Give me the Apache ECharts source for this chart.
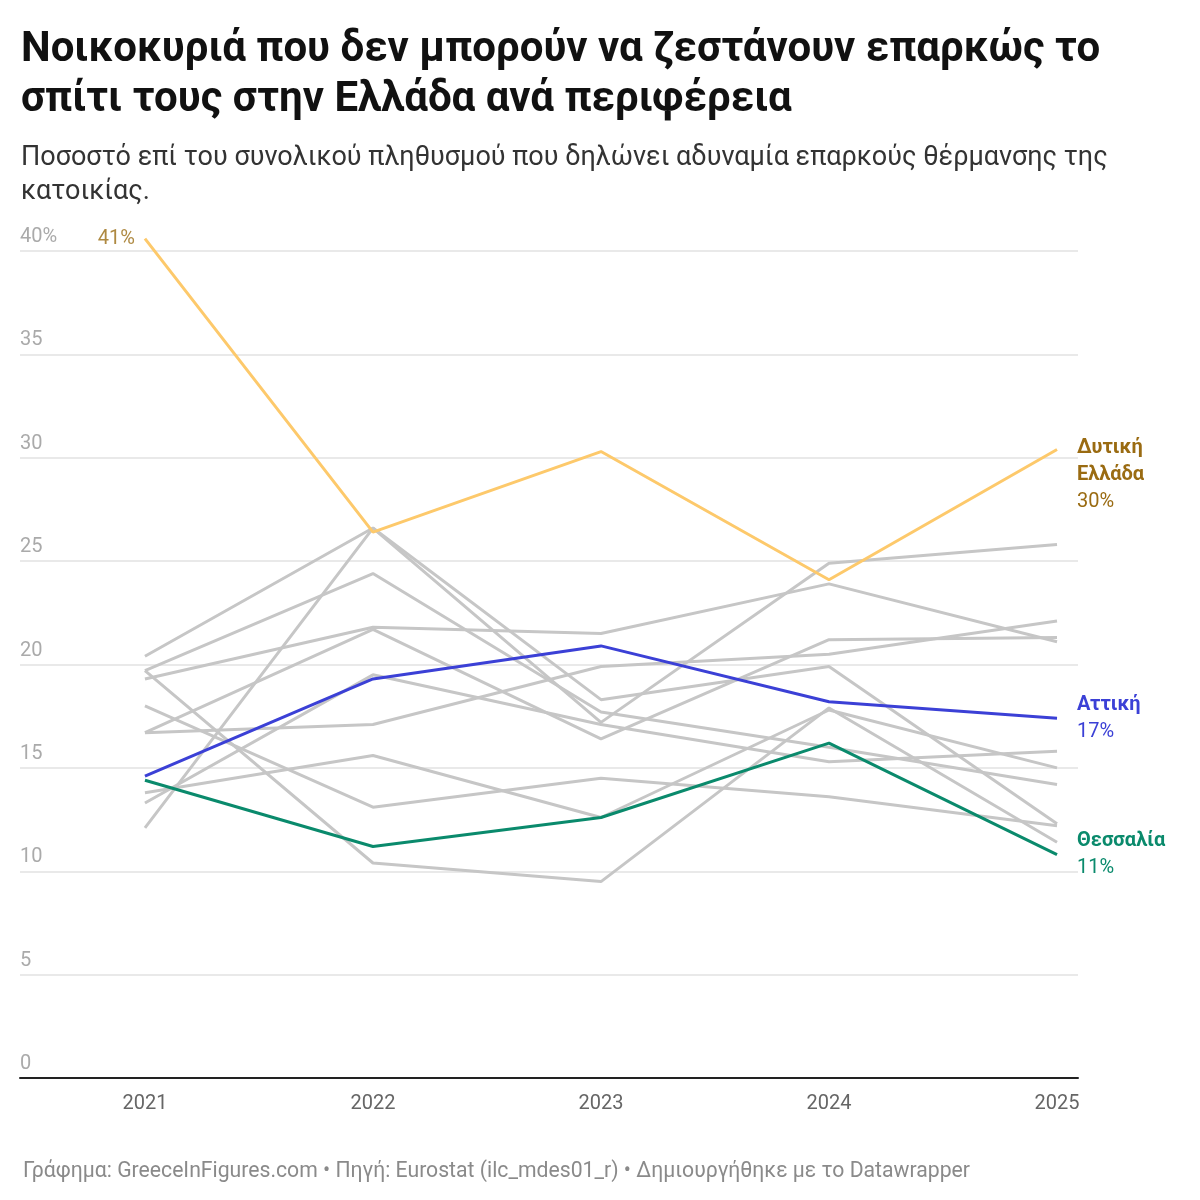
<!DOCTYPE html>
<html>
<head>
<meta charset="utf-8">
<script src="https://cdn.jsdelivr.net/npm/echarts@6/dist/echarts.min.js"></script>
<style>
  body { margin: 0; background: #fff; }
  #chart { width: 1200px; height: 1200px; }
</style>
</head>
<body>
<div id="chart"></div>
<script>
var years = [2021, 2022, 2023, 2024, 2025]
var dytikiEllada = [40.6, 26.4, 30.3, 24.1, 30.4]
var attiki = [14.6, 19.3, 20.9, 18.2, 17.4]
var thessalia = [14.4, 11.2, 12.6, 16.2, 10.8]
var others = [
  [20.4, 26.6, 18.3, 19.9, 12.3],
  [12.1, 26.6, 17.2, 24.9, 25.8],
  [19.7, 24.4, 17.7, 16.0, 14.2],
  [19.3, 21.8, 21.5, 23.9, 21.1],
  [16.7, 21.7, 16.4, 21.2, 21.3],
  [19.7, 10.4, 9.5, 17.9, 11.4],
  [18.0, 13.1, 14.5, 13.6, 12.2],
  [16.7, 17.1, 19.9, 20.5, 22.1],
  [13.8, 15.6, 12.6, 17.8, 15.0],
  [13.3, 19.5, 17.1, 15.3, 15.8]
]
var yTicks = [0, 5, 10, 15, 20, 25, 30, 35, 40]

var font = 'Roboto'
var myChart = echarts.init(document.getElementById('chart'))

function pairs (vals) {
  return vals.map(function (v, i) { return [years[i], v] })
}

var series = []
others.forEach(function (vals) {
  series.push({
    type: 'line', data: pairs(vals), symbol: 'none', silent: true, clip: false,
    lineStyle: { color: '#c6c6c6', width: 3 }, z: 1
  })
})

function highlight (vals, color, textColor, name, z) {
  return {
    type: 'line', data: pairs(vals), symbol: 'none', z: z, clip: false,
    lineStyle: { color: color, width: 3 },
    endLabel: {
      show: true, distance: 20, align: 'left',
      formatter: '{b|' + name + '}\n{v|' + Math.round(vals[vals.length - 1]) + '%}',
      rich: {
        b: { fontFamily: font, fontSize: 20, fontWeight: 'bold', color: textColor, lineHeight: 27 },
        v: { fontFamily: font, fontSize: 20, color: textColor, lineHeight: 27 }
      }
    }
  }
}

var dyt = highlight(dytikiEllada, '#fdc96b', '#9a6b12', 'Δυτική\nΕλλάδα', 5)
dyt.endLabel.formatter = '{b|Δυτική}\n{b|Ελλάδα}\n{v|30%}'
dyt.endLabel.offset = [0, 26]
series.push(dyt)
series.push(highlight(attiki, '#3b40d6', '#3b40d6', 'Αττική', 6))
series.push(highlight(thessalia, '#0a8a6c', '#0a8a6c', 'Θεσσαλία', 6))
// start label for the peak value
series.push({
  type: 'scatter', data: [[years[0], dytikiEllada[0]]], symbolSize: 0, silent: true, clip: false,
  label: { show: true, position: 'left', distance: 10, formatter: '41%', fontFamily: font, fontSize: 20, color: '#9a6b12' }
})

var option = {
  animation: false,
  title: [
    {
      text: 'Νοικοκυριά που δεν μπορούν να ζεστάνουν επαρκώς το\nσπίτι τους στην Ελλάδα ανά περιφέρεια',
      left: 16, top: 20,
      textStyle: { fontFamily: font, fontSize: 42, fontWeight: 'bold', color: '#111', lineHeight: 50 }
    },
    {
      text: 'Ποσοστό επί του συνολικού πληθυσμού που δηλώνει αδυναμία επαρκούς θέρμανσης της\nκατοικίας.',
      left: 16, top: 136,
      textStyle: { fontFamily: font, fontSize: 27, fontWeight: 'normal', color: '#333', lineHeight: 34 }
    },
    {
      text: 'Γράφημα: GreeceInFigures.com • Πηγή: Eurostat (ilc_mdes01_r) • Δημιουργήθηκε με το Datawrapper',
      left: 18, top: 1156,
      textStyle: { fontFamily: font, fontSize: 21.2, fontWeight: 'normal', color: '#8a8a8a' }
    }
  ],
  grid: { left: 20, right: 122, top: 251, bottom: 122 },
  xAxis: {
    type: 'value', min: 2020.452, max: 2025.092, interval: 1,
    splitLine: { show: false },
    axisLine: { show: true, onZero: false, lineStyle: { color: '#222', width: 2 } },
    axisTick: { show: false },
    axisLabel: {
      fontFamily: font, fontSize: 20, color: '#666', margin: 16,
      customValues: years, formatter: function (v) { return String(v) }
    }
  },
  yAxis: {
    type: 'value', min: 0, max: 40, interval: 5,
    axisLine: { show: false }, axisTick: { show: false },
    splitLine: { lineStyle: { color: '#e2e2e2', width: 1.5 } },
    axisLabel: {
      inside: true, verticalAlign: 'bottom', margin: 0, padding: [0, 0, 4, 0],
      fontFamily: font, fontSize: 20, color: '#aaa',
      formatter: function (v) { return v === 40 ? '40%' : String(v) }
    }
  },
  series: series
}

if (option && typeof option === 'object') {
  myChart.setOption(option, true)
}
</script>
</body>
</html>
